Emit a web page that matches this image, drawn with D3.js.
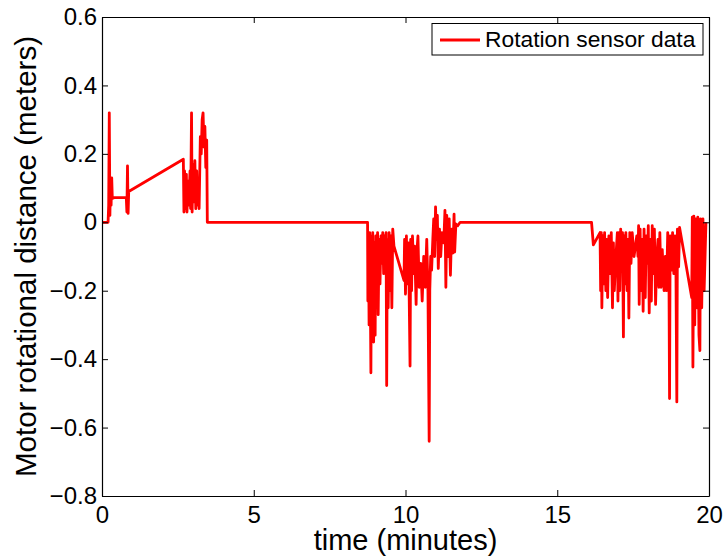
<!DOCTYPE html>
<html>
<head>
    <meta charset='utf-8'>
    <title>Rotation sensor data</title>
    <style>
        body { margin: 0; background: #fff; }
        svg { display: block; }
    </style>
</head>
<body>
<svg width="724" height="559"></svg>
<script src="https://d3js.org/d3.v7.min.js"></script>
<script>
    const width = 724
    const height = 559

    const xTicks = [0, 5, 10, 15, 20]
    const yTicks = [0.6, 0.4, 0.2, 0, -0.2, -0.4, -0.6, -0.8]

    const seriesName = "Rotation sensor data"

    // time in minutes
    const times = [
        0, 0.2, 0.22, 0.24, 0.26, 0.28, 0.3, 0.32, 0.34, 0.4, 0.8, 0.82, 0.84, 0.86, 0.88,
        2.68, 2.7, 2.72, 2.75, 2.78, 2.8, 2.83, 2.86, 2.9, 2.92, 2.95, 2.97, 3.0, 3.03, 3.06,
        3.09, 3.12, 3.15, 3.18, 3.2, 3.24, 3.27, 3.3, 3.33, 3.36, 3.39, 3.42, 3.45, 3.47,
        8.75, 8.76, 8.78, 8.8, 8.82, 8.84, 8.86, 8.88, 8.9, 8.92, 8.95, 8.97, 9.0, 9.02, 9.05,
        9.08, 9.1, 9.13, 9.16, 9.19, 9.22, 9.25, 9.28, 9.3, 9.33, 9.36, 9.38, 9.4, 9.43, 9.46,
        9.49, 9.52, 9.55, 9.58, 9.62, 9.95, 9.97, 10.0, 10.03, 10.06, 10.1, 10.15, 10.17, 10.2,
        10.23, 10.27, 10.3, 10.35, 10.38, 10.41, 10.45, 10.5, 10.55, 10.6, 10.65, 10.7, 10.74,
        10.78, 10.8, 10.83, 10.86, 10.9, 10.93, 10.96, 10.99, 11.02, 11.05, 11.08, 11.12, 11.16,
        11.2, 11.26, 11.3, 11.33, 11.36, 11.4, 11.44, 11.48, 11.52, 11.56, 11.6, 11.62, 11.66,
        11.72, 11.8,
        16.13, 16.19, 16.41, 16.43, 16.45, 16.47, 16.5, 16.53, 16.56, 16.6, 16.63, 16.66, 16.7,
        16.74, 16.78, 16.82, 16.85, 16.88, 16.92, 16.98, 17.0, 17.03, 17.06, 17.09, 17.12, 17.15,
        17.18, 17.2, 17.23, 17.26, 17.3, 17.33, 17.36, 17.39, 17.43, 17.47, 17.53, 17.62, 17.66,
        17.68, 17.7, 17.73, 17.76, 17.8, 17.83, 17.86, 17.9, 17.93, 17.97, 18.0, 18.03, 18.06,
        18.1, 18.13, 18.16, 18.2, 18.24, 18.28, 18.32, 18.35, 18.38, 18.42, 18.46, 18.52, 18.56,
        18.6, 18.64, 18.68, 18.7, 18.72, 18.76, 18.8, 18.84, 18.88, 18.91, 18.94, 18.96, 19.0,
        19.03, 19.43, 19.45, 19.47, 19.5, 19.53, 19.56, 19.6, 19.63, 19.67, 19.7, 19.72, 19.76,
        19.8, 19.84, 19.9
    ]

    // rotational distance in meters
    const distances = [
        0, 0, 0.05, 0.32, 0.02, 0.13, 0.05, 0.13, 0.07, 0.072, 0.072, 0.03, 0.165, 0.026, 0.09,
        0.184, 0.03, 0.15, 0.04, 0.14, 0.03, 0.12, 0.05, 0.15, 0.04, 0.32, 0.03, 0.17, 0.06, 0.18,
        0.04, 0.15, 0.05, 0.12, 0.04, 0.25, 0.2, 0.3, 0.32, 0.22, 0.28, 0.16, 0.24, 0,
        0, -0.23, -0.05, -0.3, -0.03, -0.2, -0.44, -0.04, -0.28, -0.03, -0.35, -0.06, -0.33, -0.04, -0.2,
        -0.03, -0.27, -0.05, -0.18, -0.04, -0.12, -0.03, -0.15, -0.04, -0.1, -0.03, -0.477, -0.05, -0.25, -0.03,
        -0.2, -0.04, -0.25, -0.02, -0.07, -0.17, -0.05, -0.21, -0.04, -0.18, -0.06, -0.42, -0.05, -0.2,
        -0.04, -0.15, -0.07, -0.24, -0.08, -0.04, -0.19, -0.12, -0.23, -0.1, -0.19, -0.05, -0.2,
        -0.64, -0.2, -0.1, -0.14, -0.05, 0.01, -0.1, 0.045, -0.05, 0.02, -0.135, -0.02, -0.1,
        -0.03, -0.06, 0.035, -0.19, 0.02, -0.1, 0.01, -0.155, -0.02, -0.09, 0.024, -0.087, -0.005,
        -0.01, 0,
        0, -0.066, -0.03, -0.2, -0.03, -0.25, -0.04, -0.18, -0.03, -0.2, -0.05, -0.22, -0.04,
        -0.15, -0.03, -0.25, -0.06, -0.2, -0.12, -0.03, -0.23, -0.03, -0.2, -0.02, -0.14, -0.03,
        -0.335, -0.04, -0.18, -0.03, -0.2, -0.05, -0.28, -0.03, -0.12, -0.03, -0.1, -0.04, -0.1,
        -0.01, -0.24, -0.02, -0.2, -0.05, -0.26, -0.02, -0.22, -0.04, -0.12, -0.01, -0.265, -0.05,
        -0.23, -0.01, -0.15, -0.02, -0.24, -0.1, -0.05, -0.19, -0.03, -0.19, -0.08, -0.2, -0.1,
        -0.2, -0.03, -0.14, -0.515, -0.04, -0.14, -0.03, -0.15, -0.04, -0.13, -0.525, -0.02, -0.13,
        -0.015, -0.22, 0.015, -0.423, 0.018, -0.3, 0.01, -0.25, 0.015, -0.33, -0.375, 0.01, -0.25,
        0.01, -0.2, 0
    ]

    const margin = {top: 17, right: 15, bottom: 63, left: 102}

    const x = d3.scaleLinear()
        .domain([0, 20])
        .range([margin.left, width - margin.right])

    const y = d3.scaleLinear()
        .domain([-0.8, 0.6])
        .range([height - margin.bottom, margin.top])

    const fmt = v => d3.format(".1f")(v).replace("-", "\u2212").replace("0.0", "0")
    const svg = d3.select("svg")
    const font = "'Liberation Sans', Arial, Helvetica, sans-serif"

    const data = times.map((t, i) => [t, distances[i]])

    svg.append("path")
        .datum(data)
        .attr("fill", "none")
        .attr("stroke", "#ff0000")
        .attr("stroke-width", 2.8)
        .attr("stroke-linejoin", "round")
        .attr("d", d3.line().x(d => x(d[0])).y(d => y(d[1])))

    const tickLen = 6

    // bottom and top axes, ticks pointing inward
    svg.append("g")
        .attr("transform", `translate(0,${y(-0.8)})`)
        .call(d3.axisBottom(x).tickValues(xTicks).tickSizeInner(-tickLen).tickSizeOuter(0).tickPadding(10).tickFormat(d3.format("d")))
    svg.append("g")
        .attr("transform", `translate(0,${y(0.6)})`)
        .call(d3.axisTop(x).tickValues(xTicks).tickSizeInner(-tickLen).tickSizeOuter(0).tickFormat(""))

    svg.append("g")
        .attr("transform", `translate(${x(0)},0)`)
        .call(d3.axisLeft(y).tickValues(yTicks).tickSizeInner(-tickLen).tickSizeOuter(0).tickPadding(5).tickFormat(fmt))
    svg.append("g")
        .attr("transform", `translate(${x(20)},0)`)
        .call(d3.axisRight(y).tickValues(yTicks).tickSizeInner(-tickLen).tickSizeOuter(0).tickFormat(""))

    svg.selectAll(".tick line").attr("stroke", "#000")
    svg.selectAll(".domain").attr("stroke", "#000").attr("stroke-width", 1.2)
    svg.selectAll(".tick text")
        .attr("fill", "#000")
        .attr("font-family", font)
        .attr("font-size", 24)

    // axis titles
    svg.append("text")
        .attr("x", (x(0) + x(20)) / 2)
        .attr("y", 550)
        .attr("text-anchor", "middle")
        .attr("font-family", font)
        .attr("font-size", 29)
        .text("time (minutes)")

    svg.append("text")
        .attr("transform", `translate(36,${(y(0.6) + y(-0.8)) / 2}) rotate(-90)`)
        .attr("text-anchor", "middle")
        .attr("font-family", font)
        .attr("font-size", 29.5)
        .text("Motor rotational distance (meters)")

    // legend
    const legend = svg.append("g")
    legend.append("rect")
        .attr("x", 432)
        .attr("y", 23.5)
        .attr("width", 271)
        .attr("height", 31.5)
        .attr("fill", "#fff")
        .attr("stroke", "#000")
        .attr("stroke-width", 1)
    legend.append("line")
        .attr("x1", 440)
        .attr("x2", 480)
        .attr("y1", 40)
        .attr("y2", 40)
        .attr("stroke", "#ff0000")
        .attr("stroke-width", 2.8)
    legend.append("text")
        .attr("x", 485)
        .attr("y", 47)
        .attr("font-family", font)
        .attr("font-size", 22.8)
        .text(seriesName)
</script>
</body>
</html>
